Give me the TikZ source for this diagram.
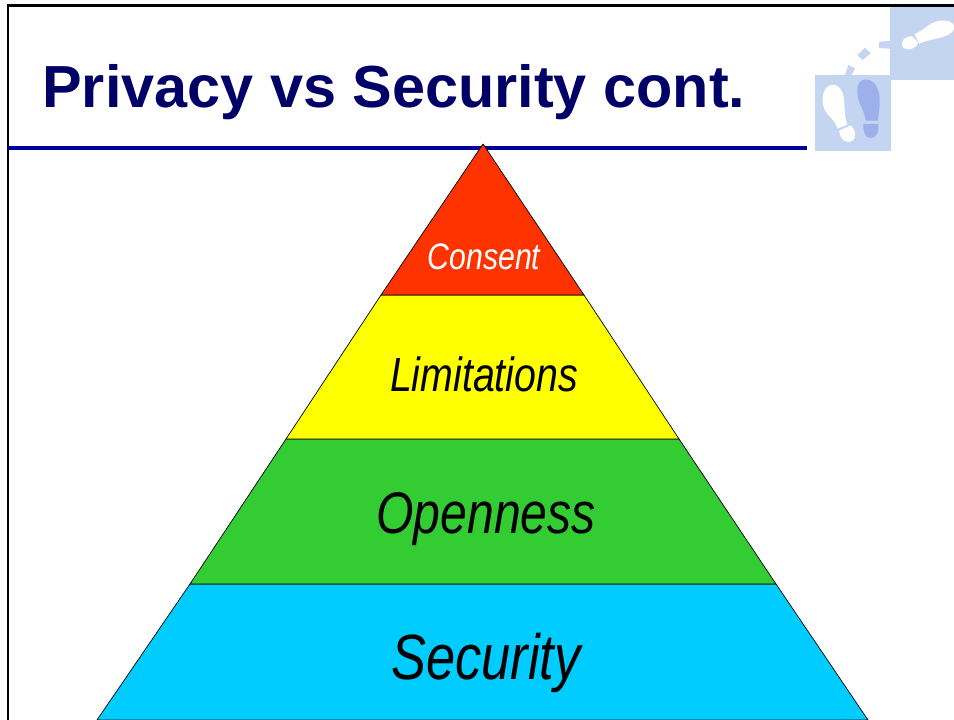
\documentclass[tikz,border=0pt]{standalone}
\usepackage{fontspec}
\setmainfont{Liberation Sans}
\definecolor{titleblue}{HTML}{000066}
\definecolor{ruleblue}{HTML}{000099}
\definecolor{tilepale}{HTML}{C3D5F0}
\definecolor{footblue}{HTML}{9DB0EC}
\definecolor{consentred}{HTML}{FF3300}
\definecolor{limitsyellow}{HTML}{FFFF00}
\definecolor{opengreen}{HTML}{33CC33}
\definecolor{securecyan}{HTML}{00CCFF}
\newcommand{\layerfont}[1]{\fontsize{#1}{#1}\selectfont\itshape}
\tikzset{
	layer/.style={draw=black,line width=0.4pt,line join=round},
	layerlabel/.style={xscale=0.82,transform shape,inner sep=0pt,anchor=center},
}

\begin{document}
\begin{tikzpicture}[x=0.02cm,y=-0.02cm]
			\useasboundingbox (0,0) rectangle (954,720);
			% slide frame and heading
			\draw[black,line width=1.4pt] (8,720) -- (8,5.5) -- (954,5.5);
			\draw[ruleblue,line width=2.2pt] (8,148) -- (807,148);
			\node[anchor=base west,inner sep=0pt,text=titleblue,font=\fontsize{33.8}{36}\selectfont\bfseries] (heading) at (42,107) {Privacy vs Security cont.};
			% footprints logo, in coordinates of a 3x crop
			\fill[tilepale] (890,7) rectangle (954,80);
			\fill[tilepale] (815,75) rectangle (891,151);
			\begin{scope}[shift={(780,0)},x=0.00667cm,y=-0.00667cm]
				\fill[white] (403,102) .. controls (435,92) and (450,58) .. (495,62) .. controls (530,64) and (530,92) .. (505,104) .. controls (480,118) and (450,116) .. (418,131) -- cycle;
				\fill[white] (396,108) .. controls (368,110) and (358,132) .. (370,144) .. controls (385,155) and (412,142) .. (415,128) -- cycle;
				\fill[tilepale] (298,125) -- (330,123) -- (330,146) -- (296,144) -- cycle;
				\fill[tilepale] (232,165) -- (255,143) -- (272,160) -- (248,180) -- cycle;
				\fill[tilepale] (205,195) -- (225,205) -- (213,228) -- (195,226) -- cycle;
				\fill[white] (172,386) .. controls (165,350) and (124,345) .. (128,295) .. controls (130,250) and (168,245) .. (182,268) .. controls (200,295) and (188,340) .. (202,374) -- cycle;
				\fill[white] (178,392) -- (212,376) .. controls (232,395) and (230,424) .. (205,426) .. controls (188,426) and (178,410) .. (178,392) -- cycle;
				\fill[footblue] (257,362) .. controls (255,330) and (230,310) .. (232,268) .. controls (233,232) and (270,230) .. (287,255) .. controls (308,285) and (296,330) .. (294,362) -- cycle;
				\fill[footblue] (250,372) -- (295,372) .. controls (298,400) and (287,414) .. (272,414) .. controls (256,414) and (249,395) .. (250,372) -- cycle;
			\end{scope}
			% pyramid, top to bottom
			\draw[layer,fill=securecyan] (190,584) -- (776,584) -- (868,720) -- (97,720) -- cycle;
			\draw[layer,fill=opengreen] (286,439) -- (679,439) -- (776,584) -- (190,584) -- cycle;
			\draw[layer,fill=limitsyellow] (381,295) -- (584,295) -- (679,439) -- (286,439) -- cycle;
			\draw[layer,fill=consentred] (483,144) -- (584,295) -- (381,295) -- cycle;
			\node[layerlabel,text=white,font=\layerfont{21}] (consent) at (484,257) {Consent};
			\node[layerlabel,font=\layerfont{27.3}] (limitations) at (484,374) {Limitations};
			\node[layerlabel,font=\layerfont{33.4}] (openness) at (486,519) {Openness};
			\node[layerlabel,font=\layerfont{36.4}] (security) at (486,663) {Security};
		\end{tikzpicture}
\end{document}
